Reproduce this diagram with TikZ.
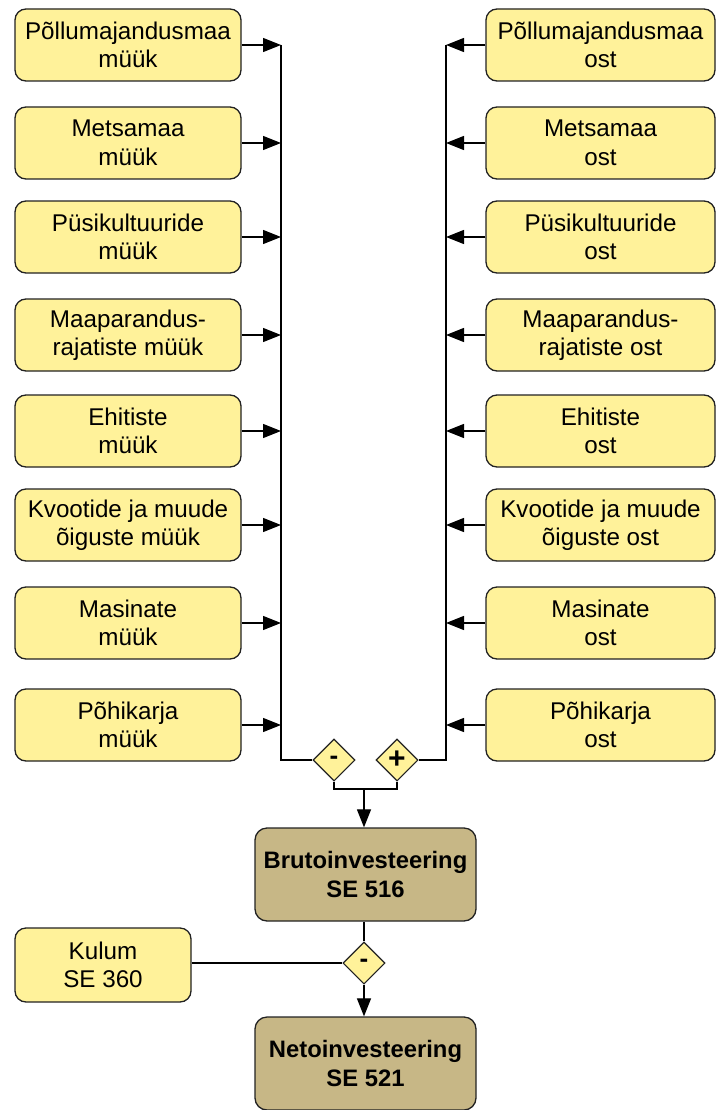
\documentclass[tikz,border=0pt]{standalone}
\usepackage{fontspec}
\setmainfont{Liberation Sans}
\usetikzlibrary{arrows.meta,shapes.geometric}
\definecolor{ylw}{HTML}{FFF29A}
\definecolor{brn}{HTML}{C7B786}
\definecolor{edge}{HTML}{222222}
\tikzset{
  txt/.style={font=\fontsize{24.2}{28.5}\selectfont},
  ybox/.style={draw=edge, line width=1.3pt, rounded corners=11pt, fill=ylw,
    minimum height=72pt, align=center, inner sep=0pt, txt},
  lbox/.style={ybox, minimum width=226pt},
  rbox/.style={ybox, minimum width=229pt},
  bbox/.style={draw=edge, line width=1.3pt, rounded corners=12pt, fill=brn,
    minimum width=221pt, minimum height=93pt, align=center, inner sep=0pt,
    font=\fontsize{23.8}{28.5}\selectfont\bfseries},
  gate/.style={diamond, draw=edge, line width=1.1pt, fill=ylw, aspect=1,
    minimum width=42pt, minimum height=42pt, inner sep=0pt, font=\bfseries},
  conn/.style={draw=black, line width=1.2pt},
  arr/.style={conn, -{Triangle[length=18pt,width=14pt]}}
}
\begin{document}
\begin{tikzpicture}[x=1pt,y=-1pt]
\useasboundingbox (0,0) rectangle (716,1110);
% left boxes
\node[lbox] (l1) at (128,45) {Põllumajandusmaa\\müük};
\node[lbox] (l2) at (128,143) {Metsamaa\\müük};
\node[lbox] (l3) at (128,237) {Püsikultuuride\\müük};
\node[lbox] (l4) at (128,335) {Maaparandus-\\rajatiste müük};
\node[lbox] (l5) at (128,431) {Ehitiste\\müük};
\node[lbox] (l6) at (128,525) {Kvootide ja muude\\õiguste müük};
\node[lbox] (l7) at (128,623) {Masinate\\müük};
\node[lbox] (l8) at (128,725) {Põhikarja\\müük};
% right boxes
\node[rbox] (r1) at (600.5,45) {Põllumajandusmaa\\ost};
\node[rbox] (r2) at (600.5,143) {Metsamaa\\ost};
\node[rbox] (r3) at (600.5,237) {Püsikultuuride\\ost};
\node[rbox] (r4) at (600.5,335) {Maaparandus-\\rajatiste ost};
\node[rbox] (r5) at (600.5,431) {Ehitiste\\ost};
\node[rbox] (r6) at (600.5,525) {Kvootide ja muude\\õiguste ost};
\node[rbox] (r7) at (600.5,623) {Masinate\\ost};
\node[rbox] (r8) at (600.5,725) {Põhikarja\\ost};
% gates
\node[gate, font=\fontsize{26}{26}\selectfont\bfseries] (gm) at (334,760) {-};
\node[gate, font=\fontsize{30}{30}\selectfont\bfseries] (gp) at (397,760) {+};
\node[gate, font=\fontsize{26}{26}\selectfont\bfseries] (gk) at (364,963) {-};
% result boxes
\node[bbox] (bruto) at (365.5,874.5) {Brutoinvesteering\\SE 516};
\node[bbox] (neto) at (365.5,1063.5) {Netoinvesteering\\SE 521};
\node[ybox, minimum width=176pt, minimum height=74pt] (kulum) at (103,965) {Kulum\\SE 360};
% bus coordinates
\foreach \i/\y in {1/45,2/143,3/237,4/335,5/431,6/525,7/623,8/725}{
  \coordinate (L\i) at (281,\y);
  \coordinate (R\i) at (446,\y);
  \draw[arr] (l\i.east) -- (L\i);
  \draw[arr] (r\i.west) -- (R\i);
}
\coordinate (J) at (364,789);
\draw[conn] (L1) |- (gm.west);
\draw[conn] (R1) |- (gp.east);
\draw[conn] (gm.south) |- (J);
\draw[conn] (gp.south) |- (J);
\draw[arr] (J) -- (bruto.north -| J);
\draw[conn] (bruto.south -| gk) -- (gk.north);
\draw[conn] (kulum.east |- gk) -- (gk.west);
\draw[arr] (gk.south) -- (neto.north -| gk);
\end{tikzpicture}
\end{document}
